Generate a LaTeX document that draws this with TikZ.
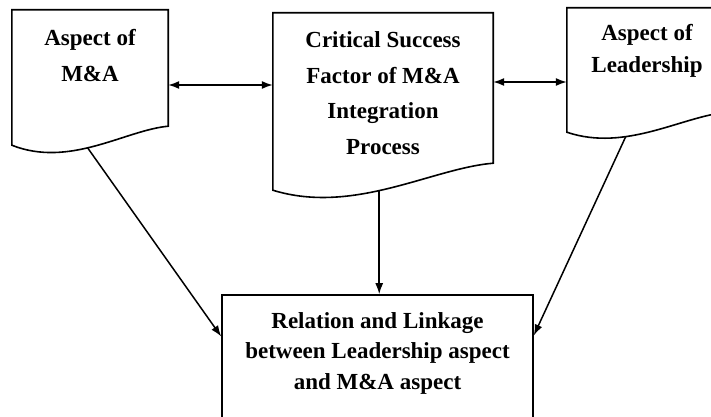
\documentclass[tikz,border=0pt]{standalone}
\usepackage{fontspec}
\setmainfont{Liberation Serif}
\usetikzlibrary{positioning,arrows.meta}
\tikzset{ %
  ,>={Latex[length=11pt,width=8pt]}
  ,docbox/.style={rectangle, inner sep=0, draw=none}
  ,doctext/.style={inner sep=0, align=center, font=\bfseries\fontsize{23}{36}\selectfont}
  ,outline/.style={line width=1.6pt}
  ,link/.style={line width=1.5pt}
}
\begin{document}
\begin{tikzpicture}[x=1pt, y=1pt]
  \clip (0,0) rectangle (711,416);
  \node[docbox, minimum width=156pt, minimum height=135pt] (ma) at (90,338.5) {};
  \node[docbox, minimum width=220pt, minimum height=177pt] (csf) at (383,314.5) {};
  \node[docbox, minimum width=160pt, minimum height=124pt] (lead) at (647,346) {};
  \node[docbox, draw, outline, minimum width=311pt, minimum height=151pt] (rel) at (377.5,45.5) {};
  % texts
  \node[doctext, below=19pt of ma.north] (maTxt) {Aspect of\\M\&A};
  \node[doctext, font=\bfseries\fontsize{23}{35.5}\selectfont, below=19pt of csf.north] (csfTxt)
    {Critical Success\\Factor of M\&A\\Integration\\Process};
  \node[doctext, font=\bfseries\fontsize{23}{32}\selectfont, below=16pt of lead.north] (leadTxt)
    {Aspect of\\Leadership};
  \node[doctext, font=\bfseries\fontsize{23}{30.5}\selectfont, below=18pt of rel.north] (relTxt)
    {Relation and Linkage\\between Leadership aspect\\and M\&A aspect};
  % document outlines with wavy bottom
  \draw[outline] (ma.south west) -- (ma.north west) -- (ma.north east) -- ([yshift=19pt]ma.south east)
    .. controls +(-43,-4) and +(58,-23) .. (ma.south west) coordinate[pos=0.55] (maBot) -- cycle;
  \draw[outline] (csf.south west) -- (csf.north west) -- (csf.north east) -- ([yshift=27pt]csf.south east)
    .. controls +(-61,-5) and +(81,-25) .. (csf.south west) coordinate[pos=0.55] (csfBot) -- cycle;
  \draw[outline] (lead.south west) -- (lead.north west) -- (lead.north east) -- ([yshift=20pt]lead.south east)
    .. controls +(-45,-4) and +(59,-20) .. (lead.south west) coordinate[pos=0.66] (leadBot) -- cycle;
  % connectors
  \path ([yshift=-7.5pt]ma.east) coordinate (maOut) ([yshift=-12pt]lead.west) coordinate (leadIn);
  \draw[link, <->] (maOut) -- (maOut -| csf.west);
  \draw[link, <->] (csf.east |- leadIn) -- (leadIn);
  \draw[link, ->] (maBot) -- ([yshift=34pt]rel.west);
  \draw[link, ->] (csfBot) -- (csfBot |- rel.north);
  \draw[link, ->] (leadBot) -- ([yshift=35pt]rel.east);
\end{tikzpicture}
\end{document}
